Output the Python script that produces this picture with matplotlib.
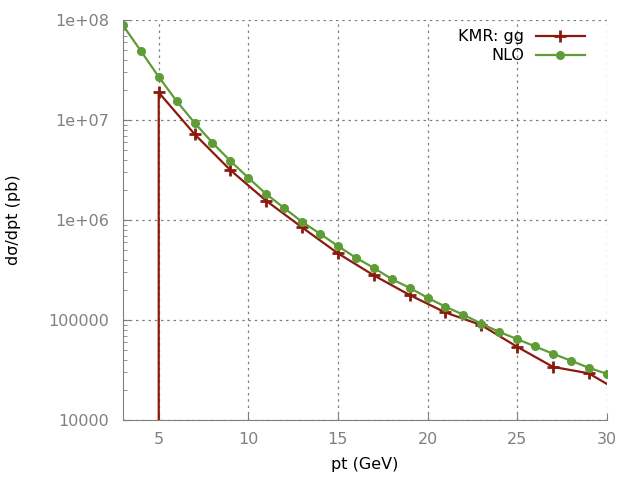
import matplotlib
matplotlib.use("Agg")
import matplotlib.pyplot as plt
from matplotlib.ticker import FixedLocator, LogLocator, NullFormatter

# data
kmr_pt = [5, 5, 7, 9, 11, 13, 15, 17, 19, 21, 23, 25, 27, 29, 30]
kmr_val = [1.0, 1.89e7, 7.24e6, 3.16e6, 1.56e6, 8.45e5, 4.65e5, 2.8e5,
           1.78e5, 1.19e5, 8.9e4, 5.4e4, 3.4e4, 2.93e4, 2.3e4]

nlo_pt = list(range(3, 31))
nlo_val = [8.9e7, 4.93e7, 2.71e7, 1.55e7, 9.4e6, 5.93e6, 3.9e6, 2.65e6,
           1.82e6, 1.32e6, 9.6e5, 7.3e5, 5.5e5, 4.2e5, 3.33e5, 2.57e5,
           2.1e5, 1.67e5, 1.36e5, 1.13e5, 9.2e4, 7.6e4, 6.45e4, 5.45e4,
           4.6e4, 3.92e4, 3.33e4, 2.9e4]

xticks = [5, 10, 15, 20, 25, 30]
yticks = [1e4, 1e5, 1e6, 1e7, 1e8]
ytick_labels = ["10000", "100000", "1e+06", "1e+07", "1e+08"]

red = "#8b1a0e"
green = "#5e9c36"
gray = "#808080"

plt.rcParams["font.family"] = "DejaVu Sans"
plt.rcParams["font.size"] = 11.5

fig = plt.figure(figsize=(6.4, 4.8), dpi=100)
ax = fig.add_axes([0.192, 0.125, 0.756, 0.833])

ax.plot(kmr_pt, kmr_val, color=red, lw=1.6, marker="+", ms=8, mew=2,
        markevery=list(range(1, len(kmr_pt) - 1)), label="KMR: gg")
ax.plot(nlo_pt, nlo_val, color=green, lw=1.6, marker="o", ms=5.5,
        label="NLO")

ax.set_yscale("log")
ax.set_xlim(3, 30)
ax.set_ylim(1e4, 1e8)

ax.xaxis.set_major_locator(FixedLocator(xticks))
ax.yaxis.set_major_locator(FixedLocator(yticks))
ax.set_yticklabels(ytick_labels)
ax.yaxis.set_minor_locator(LogLocator(base=10, subs=range(2, 10)))
ax.yaxis.set_minor_formatter(NullFormatter())

ax.grid(True, which="major", color=gray, ls=(0, (2, 3)), lw=0.9)
ax.tick_params(axis="both", which="both", direction="in", colors=gray,
               labelcolor=gray, length=5)
ax.tick_params(axis="y", which="minor", length=3)
ax.tick_params(axis="x", pad=9)
ax.tick_params(axis="y", pad=10)

for side in ["top", "right"]:
    ax.spines[side].set_visible(False)
for side in ["left", "bottom"]:
    ax.spines[side].set_color(gray)

ax.set_xlabel("pt (GeV)")
ax.set_ylabel("dσ/dpt (pb)")
ax.xaxis.set_label_coords(0.5, -0.093)
ax.yaxis.set_label_coords(-0.211, 0.5)

ax.legend(loc="upper right", frameon=False, markerfirst=False,
          handlelength=3.1, borderaxespad=0.1, labelspacing=0.25,
          handletextpad=0.7, bbox_to_anchor=(0.972, 0.997))

fig.savefig("out.png", dpi=100)
